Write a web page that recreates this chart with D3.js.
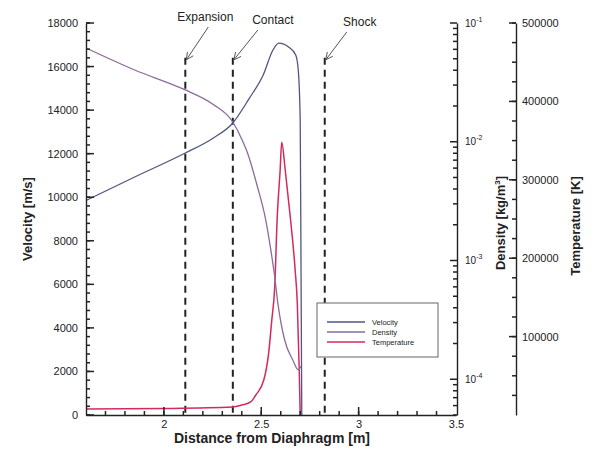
<!DOCTYPE html>
<html lang="en">
<head>
    <meta charset="UTF-8">
    <title>Shock Tube Profiles</title>
    <script src="https://d3js.org/d3.v7.min.js"></script>
    <style>
        body { margin: 0; background: #fff; }
        text { font-family: "Liberation Sans", Arial, sans-serif; fill: #222; }
    </style>
</head>
<body>
    <svg id="chart" width="602" height="450"></svg>
    <script>
        // data
        const velocityX = [1.6, 1.85, 2.11, 2.25, 2.354, 2.44, 2.51, 2.56, 2.59, 2.64, 2.677, 2.69, 2.70, 2.704, 2.708];
        const velocityY = [9850, 10930, 12030, 12700, 13410, 14560, 15610, 16760, 17080, 16900, 16530, 15840, 13500, 7000, 0];

        const densityX = [1.6, 1.85, 2.11, 2.25, 2.354, 2.40, 2.43, 2.48, 2.52, 2.55, 2.569, 2.585, 2.62, 2.662, 2.69, 2.703];
        const densityY = [0.0616, 0.0402, 0.0273, 0.0208, 0.01466, 0.0105, 0.0080, 0.0042, 0.00232, 0.0012, 0.00073, 0.00044, 0.000214, 0.000145, 0.00012, 0.000128];

        const temperatureX = [1.6, 2.0, 2.354, 2.40, 2.446, 2.472, 2.513, 2.538, 2.554, 2.569, 2.582, 2.597, 2.605, 2.623, 2.649, 2.674, 2.685, 2.695, 2.70];
        const temperatureY = [7650, 8300, 10200, 12750, 16600, 25500, 44600, 79000, 121000, 163000, 252500, 312500, 348000, 312500, 252500, 185000, 143000, 57400, 0];

        const markerNames = ["Expansion", "Contact", "Shock"];
        const markerX = [2.11, 2.354, 2.826];

        const xTicks = [2, 2.5, 3, 3.5];
        const velocityTicks = [0, 2000, 4000, 6000, 8000, 10000, 12000, 14000, 16000, 18000];
        const densityTicks = [1e-4, 1e-3, 1e-2, 1e-1];
        const temperatureTicks = [100000, 200000, 300000, 400000, 500000];

        const seriesNames = ["Velocity", "Density", "Temperature"];
        const seriesColors = ["#505680", "#8a6c9a", "#d42a5a"];

        const svg = d3.select("#chart");
        const plotLeft = 86, plotRight = 456, plotTop = 23, plotBottom = 415;
        const tempAxisX = 516;

        const x = d3.scaleLinear().domain([1.6, 3.5]).range([plotLeft, plotRight]);
        const yV = d3.scaleLinear().domain([0, 18000]).range([plotBottom, plotTop]);
        const yD = d3.scaleLog().domain([5e-5, 1e-1]).range([plotBottom, plotTop]);
        const yT = d3.scaleLinear().domain([0, 500000]).range([plotBottom, plotTop]);

        // dashed discontinuity markers
        markerX.forEach(m => {
            svg.append("line")
                .attr("x1", x(m)).attr("x2", x(m))
                .attr("y1", yV(16400)).attr("y2", plotBottom)
                .attr("stroke", "#222").attr("stroke-width", 2)
                .attr("stroke-dasharray", "7,5");
        });

        // curves
        const lineOf = (xs, ys, yScale) => d3.line()
            .curve(d3.curveMonotoneX)
            .x((d, i) => x(xs[i]))
            .y(d => yScale(d))(ys);

        svg.append("path").attr("d", lineOf(temperatureX, temperatureY, yT))
            .attr("fill", "none").attr("stroke", seriesColors[2]).attr("stroke-width", 1.5);
        svg.append("path").attr("d", lineOf(densityX, densityY, yD))
            .attr("fill", "none").attr("stroke", seriesColors[1]).attr("stroke-width", 1.3);
        svg.append("path").attr("d", lineOf(velocityX, velocityY, yV))
            .attr("fill", "none").attr("stroke", seriesColors[0]).attr("stroke-width", 1.3);

        const styleAxis = g => {
            g.selectAll("path").attr("stroke", "#222").attr("stroke-width", 1.4);
            g.selectAll("text").attr("font-size", 11).attr("fill", "#222");
        };

        // inward tick marks, drawn from the scales
        const vTicks = (scale, values, x0, len) => svg.append("g").selectAll("line")
            .data(values).join("line")
            .attr("x1", x0).attr("x2", x0 + len)
            .attr("y1", d => scale(d)).attr("y2", d => scale(d))
            .attr("stroke", "#222").attr("stroke-width", 1.5);
        const hTicks = (scale, values, y0, len) => svg.append("g").selectAll("line")
            .data(values).join("line")
            .attr("y1", y0).attr("y2", y0 - len)
            .attr("x1", d => scale(d)).attr("x2", d => scale(d))
            .attr("stroke", "#222").attr("stroke-width", 1.5);

        // left axis (velocity)
        svg.append("g").attr("transform", `translate(${plotLeft},0)`)
            .call(d3.axisLeft(yV).tickValues(velocityTicks).tickFormat(d3.format("d")).tickSize(0).tickPadding(8))
            .call(styleAxis);
        vTicks(yV, d3.range(0, 18001, 400), plotLeft, 4);
        vTicks(yV, velocityTicks, plotLeft, 8);

        // bottom axis
        svg.append("g").attr("transform", `translate(0,${plotBottom})`)
            .call(d3.axisBottom(x).tickValues(xTicks).tickFormat(d3.format("")).tickSize(0).tickPadding(5))
            .call(styleAxis);
        hTicks(x, d3.range(17, 35).map(v => v / 10), plotBottom, 4);
        hTicks(x, xTicks.slice(0, 3), plotBottom, 8);

        // density axis (log)
        const minorD = [];
        [1e-5, 1e-4, 1e-3, 1e-2].forEach(dec => d3.range(2, 10).forEach(k => {
            const v = dec * k;
            if (v >= 5e-5 && v <= 1e-1) minorD.push(v);
        }));
        const gD = svg.append("g").attr("transform", `translate(${plotRight + 1},0)`)
            .call(d3.axisRight(yD).tickValues(densityTicks).tickFormat(() => "10").tickSize(0).tickPadding(8))
            .call(styleAxis);
        gD.selectAll(".tick text")
            .attr("font-size", 10)
            .append("tspan").attr("dy", -5).attr("font-size", 7)
            .text(d => Math.round(Math.log10(d)));
        vTicks(yD, minorD, plotRight + 1, -4);
        vTicks(yD, densityTicks, plotRight + 1, -7);

        // temperature axis
        svg.append("g").attr("transform", `translate(${tempAxisX},0)`)
            .call(d3.axisRight(yT).tickValues(temperatureTicks).tickFormat(d3.format("d")).tickSize(0).tickPadding(6))
            .call(styleAxis);
        vTicks(yT, d3.range(25000, 500001, 25000), tempAxisX, -4);
        vTicks(yT, temperatureTicks, tempAxisX, -7);

        // axis titles
        const midY = (plotTop + plotBottom) / 2;
        svg.append("text")
            .attr("transform", `translate(32,${midY}) rotate(-90)`)
            .attr("text-anchor", "middle").attr("font-size", 13).attr("font-weight", "bold")
            .text("Velocity [m/s]");
        const dTitle = svg.append("text")
            .attr("transform", `translate(505,${midY + 4}) rotate(-90)`)
            .attr("text-anchor", "middle").attr("font-size", 13).attr("font-weight", "bold");
        dTitle.append("tspan").text("Density [kg/m");
        dTitle.append("tspan").attr("dy", -5).attr("font-size", 8).text("3");
        dTitle.append("tspan").attr("dy", 5).text("]");
        svg.append("text")
            .attr("transform", `translate(580,${midY + 7}) rotate(-90)`)
            .attr("text-anchor", "middle").attr("font-size", 13).attr("font-weight", "bold")
            .text("Temperature [K]");
        svg.append("text")
            .attr("x", 272).attr("y", 443)
            .attr("text-anchor", "middle").attr("font-size", 14).attr("font-weight", "bold")
            .text("Distance from Diaphragm [m]");

        // marker labels with arrows
        const labelDx = [20, 40, 35];
        const labelY = [21, 24, 26];
        const arrowDx = [23, 25, 22];
        markerNames.forEach((name, i) => {
            const mx = x(markerX[i]);
            svg.append("text")
                .attr("x", mx + labelDx[i]).attr("y", labelY[i])
                .attr("text-anchor", "middle").attr("font-size", 12)
                .text(name);
            const x0 = mx + arrowDx[i], y0 = labelY[i] + 6;
            const x1 = mx + 1, y1 = yV(16400) + 2;
            svg.append("line").attr("x1", x0).attr("y1", y0).attr("x2", x1).attr("y2", y1)
                .attr("stroke", "#555").attr("stroke-width", 1);
            const ang = Math.atan2(y1 - y0, x1 - x0);
            [-0.45, 0.45].forEach(a => {
                svg.append("line")
                    .attr("x1", x1).attr("y1", y1)
                    .attr("x2", x1 - 8 * Math.cos(ang + a)).attr("y2", y1 - 8 * Math.sin(ang + a))
                    .attr("stroke", "#555").attr("stroke-width", 1);
            });
        });

        // legend
        const lg = svg.append("g").attr("transform", "translate(317,303)");
        lg.append("rect").attr("width", 121).attr("height", 54)
            .attr("fill", "#fff").attr("stroke", "#666").attr("stroke-width", 1);
        seriesNames.forEach((name, i) => {
            const yy = 19 + i * 10;
            lg.append("line").attr("x1", 10).attr("x2", 48).attr("y1", yy).attr("y2", yy)
                .attr("stroke", seriesColors[i]).attr("stroke-width", 1.3);
            lg.append("text").attr("x", 55).attr("y", yy + 3)
                .attr("font-size", 7.5).text(name);
        });
    </script>
</body>
</html>
